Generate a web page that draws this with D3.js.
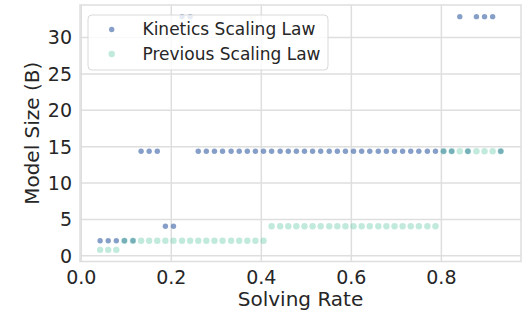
<!DOCTYPE html>
<html>
<head>
<meta charset="utf-8">
<script src="https://cdn.jsdelivr.net/npm/d3@7"></script>
<style>
  body { margin: 0; background: #fff; }
  svg text { font-family: "DejaVu Sans", sans-serif; fill: #262626; }
</style>
</head>
<body>
<svg id="chart" width="532" height="319"></svg>
<script>
// solving rate of each run (shared by both series)
const solvingRate = [
  0.043, 0.061, 0.079, 0.097, 0.116, 0.134, 0.152, 0.170, 0.188, 0.206,
  0.225, 0.243, 0.261, 0.279, 0.297, 0.315, 0.334, 0.352, 0.370, 0.388,
  0.406, 0.424, 0.443, 0.461, 0.479, 0.497, 0.515, 0.533, 0.552, 0.570,
  0.588, 0.606, 0.624, 0.642, 0.661, 0.679, 0.697, 0.715, 0.733, 0.751,
  0.770, 0.788, 0.806, 0.824, 0.842, 0.860, 0.879, 0.897, 0.915, 0.933
];
const kineticsSize = [
  2.0, 2.0, 2.0, 2.0, 2.0, 14.3, 14.3, 14.3, 4.0, 4.0,
  32.8, 32.8, 14.3, 14.3, 14.3, 14.3, 14.3, 14.3, 14.3, 14.3,
  14.3, 14.3, 14.3, 14.3, 14.3, 14.3, 14.3, 14.3, 14.3, 14.3,
  14.3, 14.3, 14.3, 14.3, 14.3, 14.3, 14.3, 14.3, 14.3, 14.3,
  14.3, 14.3, 14.3, 14.3, 32.8, 14.3, 32.8, 32.8, 32.8, 14.3
];
const previousSize = [
  0.75, 0.75, 0.75, 2.0, 2.0, 2.0, 2.0, 2.0, 2.0, 2.0,
  2.0, 2.0, 2.0, 2.0, 2.0, 2.0, 2.0, 2.0, 2.0, 2.0,
  2.0, 4.0, 4.0, 4.0, 4.0, 4.0, 4.0, 4.0, 4.0, 4.0,
  4.0, 4.0, 4.0, 4.0, 4.0, 4.0, 4.0, 4.0, 4.0, 4.0,
  4.0, 4.0, 14.3, 14.3, 14.3, 14.3, 14.3, 14.3, 14.3, 14.3
];
const xTicks = [0.0, 0.2, 0.4, 0.6, 0.8];
const yTicks = [0, 5, 10, 15, 20, 25, 30];
const seriesNames = ["Kinetics Scaling Law", "Previous Scaling Law"];

const svg = d3.select("#chart");
const plotLeft = 80, plotRight = 521, plotTop = 5, plotBottom = 261.5;

const x = d3.scaleLinear().domain([-0.0017, 0.978]).range([plotLeft, plotRight]);
const y = d3.scaleLinear().domain([-0.85, 34.4]).range([plotBottom, plotTop]);

const gridColor = "#dedede";

// grid
svg.append("g")
  .attr("transform", `translate(0,${plotBottom})`)
  .call(d3.axisBottom(x).tickValues(xTicks).tickSize(-(plotBottom - plotTop)).tickFormat(d3.format(".1f")))
  .call(g => g.select(".domain").remove())
  .call(g => g.selectAll("line").attr("stroke", gridColor).attr("stroke-width", 1.5))
  .call(g => g.selectAll("text").attr("dy", "1.05em").style("font-size", "19px"));

svg.append("g")
  .attr("transform", `translate(${plotLeft},0)`)
  .call(d3.axisLeft(y).tickValues(yTicks).tickSize(-(plotRight - plotLeft)))
  .call(g => g.select(".domain").remove())
  .call(g => g.selectAll("line").attr("stroke", gridColor).attr("stroke-width", 1.5))
  .call(g => g.selectAll("text").attr("x", -8).attr("dy", "0.36em").style("font-size", "19px"));

svg.selectAll(".tick text").attr("fill", "#262626");

// frame
svg.append("rect")
  .attr("x", plotLeft).attr("y", plotTop)
  .attr("width", plotRight - plotLeft).attr("height", plotBottom - plotTop)
  .attr("fill", "none").attr("stroke", gridColor).attr("stroke-width", 1.5);

// points
const kinColor = "#4c72b0", kinAlpha = 0.68;
const prevColor = "#5cc8a4", prevAlpha = 0.38;

svg.append("g").selectAll("circle")
  .data(solvingRate.map((r, i) => [r, kineticsSize[i]]))
  .join("circle")
  .attr("cx", d => x(d[0])).attr("cy", d => y(d[1]))
  .attr("r", 2.7)
  .attr("fill", kinColor).attr("fill-opacity", kinAlpha);

svg.append("g").selectAll("circle")
  .data(solvingRate.map((r, i) => [r, previousSize[i]]))
  .join("circle")
  .attr("cx", d => x(d[0])).attr("cy", d => y(d[1]))
  .attr("r", 3.2)
  .attr("fill", prevColor).attr("fill-opacity", prevAlpha);

// axis labels
svg.append("text")
  .attr("x", (plotLeft + plotRight) / 2).attr("y", 306)
  .attr("text-anchor", "middle").style("font-size", "20px")
  .text("Solving Rate");

svg.append("text")
  .attr("transform", `translate(39,${(plotTop + plotBottom) / 2}) rotate(-90)`)
  .attr("text-anchor", "middle").style("font-size", "20px")
  .text("Model Size (B)");

// legend
const legend = svg.append("g");
legend.append("rect")
  .attr("x", 88).attr("y", 15).attr("width", 240).attr("height", 55).attr("rx", 4)
  .attr("fill", "#fff").attr("fill-opacity", 0.8)
  .attr("stroke", "#d9d9d9").attr("stroke-width", 1);

const items = [
  { name: seriesNames[0], color: kinColor, alpha: kinAlpha, r: 2.7 },
  { name: seriesNames[1], color: prevColor, alpha: prevAlpha, r: 3.2 }
];
items.forEach((d, i) => {
  const cy = 29.5 + i * 24.5;
  legend.append("circle")
    .attr("cx", 111.7).attr("cy", cy).attr("r", d.r)
    .attr("fill", d.color).attr("fill-opacity", d.alpha);
  legend.append("text")
    .attr("x", 142.5).attr("y", cy).attr("dy", "0.35em")
    .style("font-size", "17px")
    .text(d.name);
});
</script>
</body>
</html>
